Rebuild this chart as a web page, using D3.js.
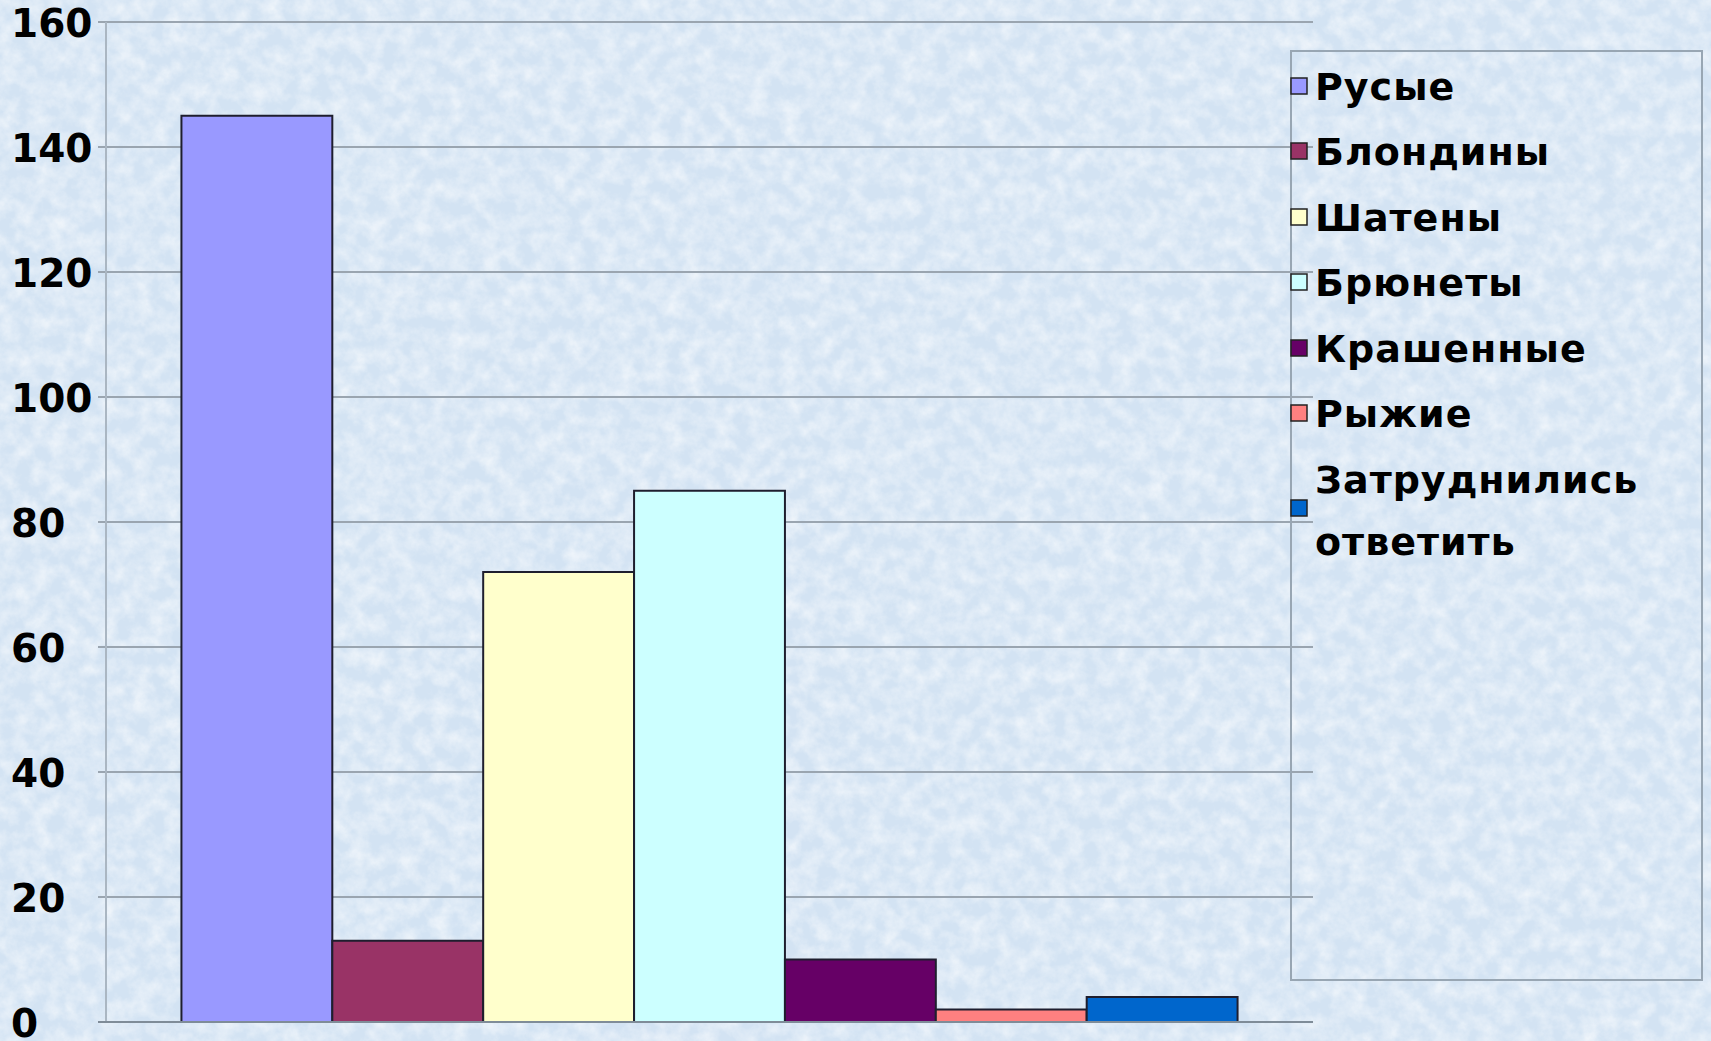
<!DOCTYPE html>
<html>
<head>
<meta charset="utf-8">
<script src="https://cdn.jsdelivr.net/npm/d3@7"></script>
<style>
  body { margin: 0; background: #d9e7f4; }
  svg text { font-family: "DejaVu Sans", Verdana, sans-serif; font-weight: bold; fill: #000; }
</style>
</head>
<body>
<div class="chart"></div>
<script>
// Hair colour survey – clustered bars, one category

// Data
var seriesNames = ["Русые", "Блондины", "Шатены", "Брюнеты", "Крашенные", "Рыжие", "Затруднились ответить"];
var seriesValues = [145, 13, 72, 85, 10, 2, 4];
var seriesColors = ["#9999ff", "#993366", "#ffffcc", "#ccffff", "#660066", "#ff8080", "#0066cc"];
var yTicks = [0, 20, 40, 60, 80, 100, 120, 140, 160];

// SVG area
var svgWidth = 1711;
var svgHeight = 1041;

var margin = { top: 22, right: 398, bottom: 19, left: 106 };
var width = svgWidth - margin.left - margin.right;
var height = svgHeight - margin.top - margin.bottom;

var svg = d3.select(".chart")
  .append("svg")
  .attr("width", svgWidth)
  .attr("height", svgHeight);

// paper texture
var defs = svg.append("defs");
var filt = defs.append("filter").attr("id", "paper")
  .attr("x", 0).attr("y", 0).attr("width", "100%").attr("height", "100%");
filt.append("feTurbulence")
  .attr("type", "fractalNoise")
  .attr("baseFrequency", "0.06")
  .attr("numOctaves", 4)
  .attr("seed", 7);
filt.append("feColorMatrix")
  .attr("type", "matrix")
  .attr("values", "0 0 0 0 1  0 0 0 0 1  0 0 0 0 1  1.4 0 0 0 -0.45");

svg.append("rect")
  .attr("width", svgWidth).attr("height", svgHeight)
  .attr("fill", "#d3e3f3");
svg.append("rect")
  .attr("width", svgWidth).attr("height", svgHeight)
  .attr("filter", "url(#paper)")
  .attr("opacity", 0.75);

var chartGroup = svg.append("g")
  .attr("transform", `translate(${margin.left}, ${margin.top})`);

// Scales
var yScale = d3.scaleLinear()
  .domain([0, 160])
  .range([height, 0]);

var xScale = d3.scaleBand()
  .domain(seriesNames)
  .range([0, width])
  .paddingInner(0)
  .paddingOuter(0.5);

// Gridlines
chartGroup.append("g")
  .selectAll("line")
  .data(yTicks.filter(d => d > 0))
  .enter()
  .append("line")
  .attr("x1", -8)
  .attr("x2", width)
  .attr("y1", d => yScale(d))
  .attr("y2", d => yScale(d))
  .attr("stroke", "#9aa5b0")
  .attr("stroke-width", 2);

// vertical axis line
chartGroup.append("line")
  .attr("x1", 0).attr("x2", 0)
  .attr("y1", 0).attr("y2", height)
  .attr("stroke", "#aab6c2")
  .attr("stroke-width", 2);

// Y axis labels
var leftAxis = d3.axisLeft(yScale).tickValues(yTicks).tickSize(0);
var yAxis = chartGroup.append("g").call(leftAxis);
yAxis.select(".domain").remove();
yAxis.selectAll("text")
  .attr("x", 11 - margin.left)
  .attr("dy", "0.36em")
  .attr("text-anchor", "start")
  .style("font-size", "39px");

// Bars
chartGroup.selectAll(".bar")
  .data(seriesValues)
  .enter()
  .append("rect")
  .attr("class", "bar")
  .attr("x", (d, i) => xScale(seriesNames[i]))
  .attr("y", d => yScale(d))
  .attr("width", xScale.bandwidth())
  .attr("height", d => height - yScale(d))
  .attr("fill", (d, i) => seriesColors[i])
  .attr("stroke", "#1e1e2e")
  .attr("stroke-width", 2);

// bottom axis line
chartGroup.append("line")
  .attr("x1", -8).attr("x2", width)
  .attr("y1", height).attr("y2", height)
  .attr("stroke", "#7f8c98")
  .attr("stroke-width", 2);

// Legend
var legend = svg.append("g").attr("transform", "translate(1291, 51)");
legend.append("rect")
  .attr("width", 411).attr("height", 929)
  .attr("fill", "none")
  .attr("stroke", "#98a6b3")
  .attr("stroke-width", 2);

var rowY = [49, 114, 180, 245, 311, 376];
seriesNames.forEach(function(name, i) {
  var g = legend.append("g");
  var lines = i === 6 ? ["Затруднились", "ответить"] : [name];
  var baseY = i === 6 ? 442 : rowY[i];
  var midY = i === 6 ? 457 : baseY - 14;
  g.append("rect")
    .attr("x", 0).attr("y", midY - 8)
    .attr("width", 16).attr("height", 16)
    .attr("fill", seriesColors[i])
    .attr("stroke", "#222")
    .attr("stroke-width", 1.5);
  lines.forEach(function(t, j) {
    g.append("text")
      .attr("x", 24)
      .attr("y", baseY + j * 62)
      .style("font-size", "38px")
      .style("letter-spacing", "1px")
      .text(t);
  });
});
</script>
</body>
</html>
